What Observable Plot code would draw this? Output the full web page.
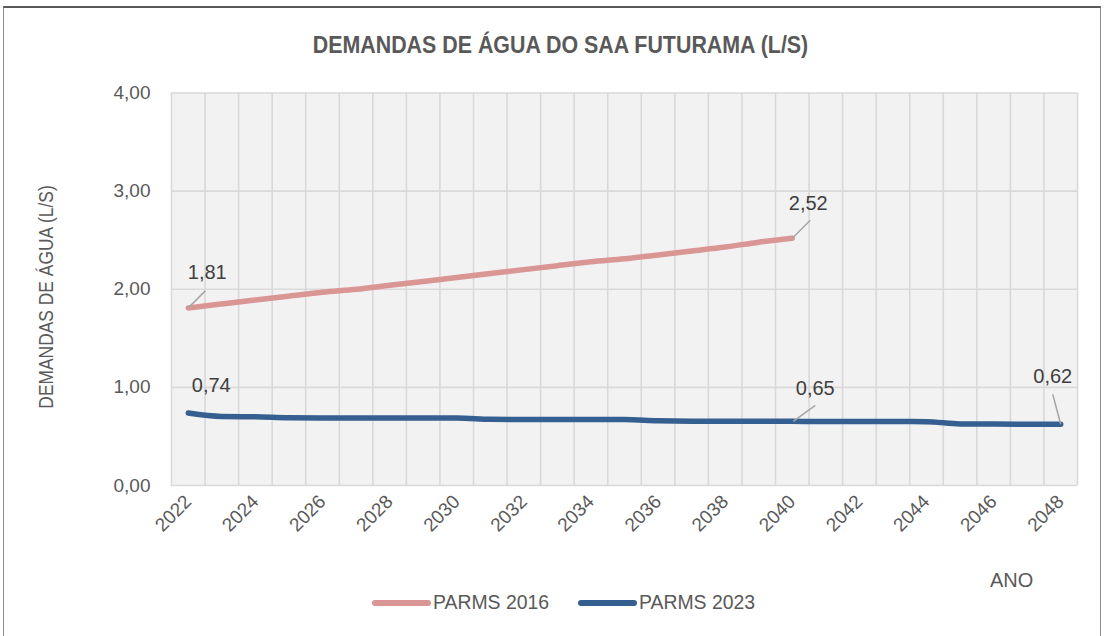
<!DOCTYPE html>
<html><head><meta charset="utf-8">
<script src="https://cdn.jsdelivr.net/npm/d3@7"></script>
<script src="https://cdn.jsdelivr.net/npm/@observablehq/plot@0.6"></script>
<style>
body{margin:0;background:#fff;}
#wrap{position:relative;width:1105px;height:636px;overflow:hidden;font-family:"Liberation Sans Narrow","Arial Narrow","Liberation Sans",sans-serif;color:#595959;}
#border{position:absolute;left:3px;top:6px;width:1098px;height:700px;border:1px solid #8c8c8c;border-top:2px solid #595959;box-sizing:border-box;}
#title{position:absolute;left:8px;width:1105px;top:32px;text-align:center;font-weight:bold;font-size:23px;transform:scaleX(0.93);transform-origin:552px 0;}
#ylab{position:absolute;left:46px;top:297px;transform:translate(-50%,-50%) rotate(-90deg) scaleX(0.87);white-space:nowrap;font-size:20px;}
#ano{position:absolute;left:990px;top:569px;font-size:20px;}
.leg{position:absolute;top:591px;font-size:20px;white-space:nowrap;transform:scaleX(0.97);transform-origin:0 0;}
.sw{position:absolute;top:600px;height:6px;border-radius:3px;}
#chart{position:absolute;left:0;top:0;}
</style></head><body><div id="wrap">
<div id="chart"></div>
<div id="border"></div>
<div id="title"></div>
<div id="ylab"></div>
<div id="ano"></div>
<div id="legend"></div>
</div>
<script>
const titleText = "DEMANDAS DE ÁGUA DO SAA FUTURAMA (L/S)";
const yLabel = "DEMANDAS DE ÁGUA (L/S)";
const xLabel = "ANO";
const seriesNames = ["PARMS 2016", "PARMS 2023"];
const seriesColors = ["#D99694", "#365F91"];
const years = [2022,2023,2024,2025,2026,2027,2028,2029,2030,2031,2032,2033,2034,2035,2036,2037,2038,2039,2040,2041,2042,2043,2044,2045,2046,2047,2048];
const parms2016 = [1.81,1.85,1.89,1.93,1.97,2.00,2.04,2.08,2.12,2.16,2.20,2.24,2.28,2.31,2.35,2.39,2.43,2.48,2.52];
const parms2023 = [0.738,0.703,0.700,0.690,0.688,0.688,0.688,0.688,0.688,0.675,0.672,0.672,0.672,0.672,0.660,0.656,0.656,0.656,0.654,0.652,0.652,0.652,0.650,0.628,0.626,0.624,0.624];
const yTicks = [0,1,2,3,4];
const xTicks = [2022,2024,2026,2028,2030,2032,2034,2036,2038,2040,2042,2044,2046,2048];
// labelled points: [series index, year]
const labelled = [[0,2022],[0,2040],[1,2022],[1,2040],[1,2048]];

const fmt = v => v.toFixed(2).replace(".", ",");
const rows = [];
[parms2016, parms2023].forEach((arr, s) => arr.forEach((v, i) => rows.push({series: seriesNames[s], year: years[i], value: v})));
const valueOf = (s, y) => [parms2016, parms2023][s][years.indexOf(y)];

// plot geometry
const W = 1105, H = 636, mL = 171, mR = 28, mT = 92.5, mB = 151;
const pxX = (W - mL - mR) / (years.length);
const pxY = (H - mT - mB) / 4;

// label offsets (pixels) and leader lines (pixels from point)
const labelStyle = [
  {dx: 19, dy: -35, l: [[0,0],[17,-17]]},
  {dx: 16, dy: -35, l: [[0,0],[18,-18]]},
  {dx: 23, dy: -27, l: null},
  {dx: 23, dy: -33, l: [[1,0],[23,-16]]},
  {dx: -8, dy: -48, l: [[-8,-30],[0,0]]}
];
const labels = labelled.map(([s, y], i) => ({year: y, value: valueOf(s, y), text: fmt(valueOf(s, y)), dx: labelStyle[i].dx, dy: labelStyle[i].dy}));
const leaders = labelled.map(([s, y], i) => {
  const st = labelStyle[i].l; if (!st) return null;
  const v = valueOf(s, y);
  return {x1: y + st[0][0]/pxX, y1: v - st[0][1]/pxY, x2: y + st[1][0]/pxX, y2: v - st[1][1]/pxY};
}).filter(d => d);

const gridX = years.map(y => y - 0.5).concat([years[years.length-1] + 0.5]);
const font = '"Liberation Sans Narrow","Arial Narrow","Liberation Sans",sans-serif';

const plot = Plot.plot({
  width: W, height: H, marginLeft: mL, marginRight: mR, marginTop: mT, marginBottom: mB,
  style: {fontFamily: font, fontSize: "19px", color: "#595959", background: "transparent", overflow: "visible"},
  x: {domain: [years[0] - 0.5, years[years.length-1] + 0.5], ticks: xTicks, tickFormat: d => String(d), tickRotate: -45, tickSize: 0, tickPadding: 13, label: null},
  y: {domain: [0, 4], ticks: yTicks, tickFormat: fmt, tickSize: 0, tickPadding: 21, label: null},
  marks: [
    Plot.frame({fill: "#F2F2F2", stroke: null}),
    Plot.ruleX(gridX, {stroke: "#D9D9D9", strokeWidth: 1.6}),
    Plot.ruleY(yTicks, {stroke: "#D9D9D9", strokeWidth: 1.6}),
    Plot.line(rows.filter(d => d.series === seriesNames[0]), {x: "year", y: "value", stroke: seriesColors[0], strokeWidth: 5.5, curve: "monotone-x", strokeLinecap: "round"}),
    Plot.line(rows.filter(d => d.series === seriesNames[1]), {x: "year", y: "value", stroke: seriesColors[1], strokeWidth: 5.5, curve: "monotone-x", strokeLinecap: "round"}),
    Plot.link(leaders, {x1: "x1", y1: "y1", x2: "x2", y2: "y2", stroke: "#A6A6A6", strokeWidth: 1.5}),
    ...labels.map(d => Plot.text([d], {x: "year", y: "value", text: "text", dx: d.dx, dy: d.dy, fill: "#404040", fontSize: 20}))
  ]
});
document.getElementById("chart").appendChild(plot);
document.getElementById("title").textContent = titleText;
document.getElementById("ylab").textContent = yLabel;
document.getElementById("ano").textContent = xLabel;
const leg = document.getElementById("legend");
const legPos = [372, 578];
seriesNames.forEach((n, i) => {
  const sw = document.createElement("div"); sw.className = "sw";
  sw.style.left = legPos[i] + "px"; sw.style.width = "59px"; sw.style.background = seriesColors[i];
  leg.appendChild(sw);
  const t = document.createElement("div"); t.className = "leg";
  t.style.left = (legPos[i] + 61) + "px"; t.textContent = n;
  leg.appendChild(t);
});
</script></body></html>
